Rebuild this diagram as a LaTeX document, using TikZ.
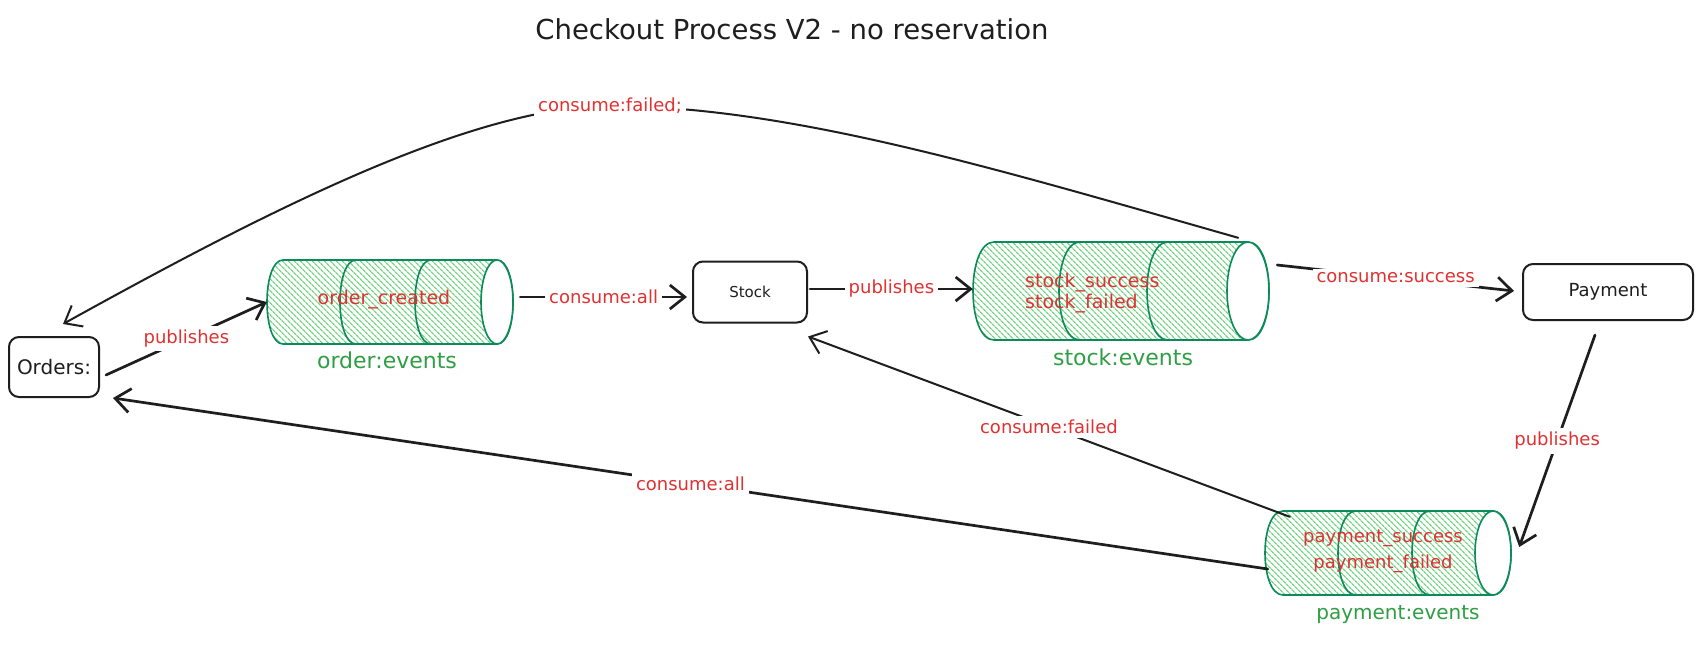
\documentclass[tikz,border=0pt]{standalone}
\usepackage{fontspec}
\setmainfont{DejaVu Sans}
\usetikzlibrary{arrows.meta,calc,patterns.meta}
\definecolor{ink}{HTML}{1E1E1E}
\definecolor{lblred}{HTML}{E03131}
\definecolor{lblgreen}{HTML}{2F9E44}
\definecolor{cylline}{HTML}{0C8A5A}
\definecolor{hatchgreen}{HTML}{6FD37F}
\newcommand\drawqueue[7]{%
  \pgfmathsetmacro\qL{#2+#6}%
  \pgfmathsetmacro\qk{4/3*#6}%
  \pgfmathsetmacro\qyc{(#4+#5)/2}%
  \pgfmathsetmacro\qry{(#5-#4)/2}%
  \pgfmathsetmacro\qcx{(#2+#3+#6)/2}%
  \pgfmathsetmacro\qw{#3+#6-#2}%
  \pgfmathsetmacro\qh{#5-#4}%
  \path[queuebody] (\qL,#4) -- (#3,#4) .. controls (#3+\qk,#4) and (#3+\qk,#5) .. (#3,#5)
     -- (\qL,#5) .. controls (\qL-\qk,#5) and (\qL-\qk,#4) .. cycle;
  \foreach \ix in {#7} {\draw[queueline] (\ix,#4) .. controls (\ix-\qk,#4) and (\ix-\qk,#5) .. (\ix,#5);}
  \draw[queueline, fill=white] (#3,\qyc) ellipse [x radius=#6pt, y radius=\qry pt];
  \node[inner sep=0pt, minimum width=\qw pt, minimum height=\qh pt] (#1) at (\qcx,\qyc) {};
}
\begin{document}
\begin{tikzpicture}[x=1pt,y=-1pt,
  box/.style={draw=ink, line width=2pt, rounded corners=10pt, fill=white, inner sep=0pt, text=ink},
  lbl/.style={text=lblred, fill=white, inner sep=4pt, font=\fontsize{18}{20}\selectfont},
  qtext/.style={text=lblred, inner sep=0pt, font=\fontsize{19}{21}\selectfont},
  qname/.style={text=lblgreen, inner sep=0pt, font=\fontsize{22}{25}\selectfont},
  conn/.style={draw=ink, line width=2.7pt, line cap=round, -{Straight Barb[length=15pt,width=24pt]}},
  connthin/.style={draw=ink, line width=2pt, line cap=round, -{Straight Barb[length=15pt,width=24pt]}},
  queuebody/.style={draw=cylline, line width=1.6pt, pattern={Lines[angle=-45,distance=4pt,line width=1.3pt]}, pattern color=hatchgreen},
  queueline/.style={draw=cylline, line width=1.6pt}]
\fill[white] (0,0) rectangle (1708,646);
\useasboundingbox (0,0) rectangle (1708,646);

\node[text=ink, inner sep=0pt, font=\fontsize{27.5}{32}\selectfont] (title) at (792,29) {Checkout Process V2 - no reservation};

% boxes
\node[box, minimum width=90pt, minimum height=60pt, font=\fontsize{20}{22}\selectfont] (orders) at (54,367) {Orders:};
\node[box, minimum width=114pt, minimum height=61pt, font=\fontsize{15}{18}\selectfont] (stock) at (750,292) {Stock};
\node[box, minimum width=170pt, minimum height=56pt, font=\fontsize{18}{20}\selectfont] (payment) at (1608,292) {Payment};

% queues
\drawqueue{oe}{267}{497}{260}{344}{16}{356,431}
\drawqueue{se}{973}{1248}{242}{340}{21}{1080,1168}
\drawqueue{pe}{1265}{1493}{511}{595}{18}{1356,1430}

\node[qtext] (oetext) at (384,300) {order\_created};
\node[qtext, align=left, anchor=west, font=\fontsize{19}{21}\selectfont] (setext) at (1025,293) {stock\_success\\stock\_failed};
\node[qtext, align=center, font=\fontsize{18}{26}\selectfont] (petext) at (1383,551) {payment\_success\\payment\_failed};

\node[qname] (oename) at (387,360) {order:events};
\node[qname] (sename) at (1123,357) {stock:events};
\node[qname, font=\fontsize{20}{24}\selectfont] (pename) at (1398,615) {payment:events};

% connectors
\draw[conn] ($(orders.east)+(6,8)$) -- node[lbl] {publishes} (oe.west);
\draw[conn] ($(oe.east)+(7,-5)$) -- node[lbl] {consume:all} ($(stock.west)+(-5,5)$);
\draw[conn] ($(stock.east)+(2,-3)$) -- node[lbl] {publishes} ($(se.west)+(0,-2)$);
\draw[conn] ($(se.east)+(8,-26)$) -- node[lbl] {consume:success} ($(payment.west)+(-8,-1)$);
\draw[conn] ($(payment.south)+(-13,14)$) -- node[lbl] {publishes} ($(pe.east)+(8,-6)$);
\draw[connthin] ($(pe.north west)+(25,6)$) -- node[lbl] {consume:failed} ($(stock.south east)+(0,13)$);
\draw[conn] ($(pe.west)+(3,16)$) -- node[lbl] {consume:all} ($(orders.east)+(13,31)$);

\coordinate (cfpt) at (610,106);
\draw[connthin] ($(se.north east)+(-31,-4)$) .. controls (1000,170) and (790,106) .. (cfpt)
   .. controls (470,106) and (260,215) .. ($(orders.north)+(9,-12)$);
\node[lbl] (cflabel) at (cfpt) {consume:failed;};
\end{tikzpicture}
\end{document}
